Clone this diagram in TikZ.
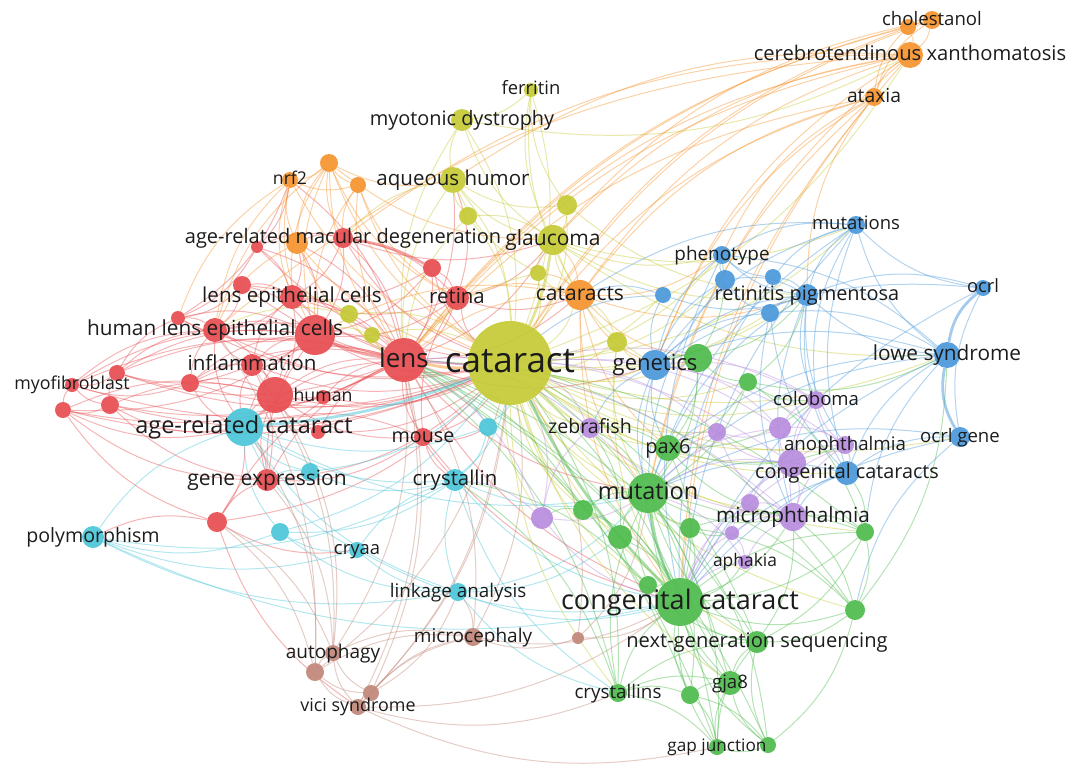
\documentclass[tikz,border=0pt]{standalone}
\usepackage{fontspec}
\setmainfont{Open Sans}
\usepackage{tikz}
\definecolor{cRed}{RGB}{231,76,80}
\definecolor{cOrange}{RGB}{245,148,46}
\definecolor{cYellow}{RGB}{196,202,52}
\definecolor{cBlue}{RGB}{74,152,218}
\definecolor{cGreen}{RGB}{78,187,76}
\definecolor{cPurple}{RGB}{183,140,222}
\definecolor{cCyan}{RGB}{74,198,216}
\definecolor{cBrown}{RGB}{192,135,120}
\definecolor{txt}{RGB}{28,28,28}
\pgfdeclarelayer{links}
\pgfsetlayers{links,main}

\begin{document}
\begin{tikzpicture}[x=1pt,y=-1pt,
  kw/.style={circle,fill=#1,inner sep=0pt,fill opacity=0.92},
  lbl/.style={font=\fontsize{#1}{#1}\selectfont,text=txt,inner sep=0pt,anchor=base,yshift=-0.27*#1*1pt},
  lnk/.style={draw=#1,line width=1pt,draw opacity=0.42},
  lnkw/.style={draw=#1,line width=2.8pt,draw opacity=0.5}]
\useasboundingbox (0,0) rectangle (1084,763);
\foreach \n/\x/\y/\s in {ra/315/335/40,rb/275/395/36,lens/404/360/44,hlec/215/330/24,lec/292/297/24,infl/252/365/22,human/323/397/14,geneexp/267/480/22,myofib/72/385/14,retina/457/298/24,mouse/423/437/18,amd/343/238/20,rc/432/268/18,rd/257/247/12,re/242/285/18,rf/178/318/14,rg/117/373/16,rh/63/410/16,ri/110/405/18,rj/190/383/18,rk/318/432/14,rl/217/522/20}
  \node[kw=cRed,minimum size=\s] (\n) at (\x,\y) {};
\foreach \n/\x/\y/\s in {arc/244/427/38,poly/93/537/22,crystallin/455/480/22,cryaa/357/550/16,linkage/458/592/18,ca/310/472/18,cb/280/532/18,cyc/488/427/18}
  \node[kw=cCyan,minimum size=\s] (\n) at (\x,\y) {};
\foreach \n/\x/\y/\s in {microceph/473/637/18,autoph/333/653/16,vici/358/707/16,bra/315/672/18,brb/371/693/16,brc/578/638/12}
  \node[kw=cBrown,minimum size=\s] (\n) at (\x,\y) {};
\foreach \n/\x/\y/\s in {cataract/510/363/84,glaucoma/553/240/30,aqueous/453/180/26,myotonic/462/120/22,ferritin/531/90/14,ya/567/205/20,yb/468/216/18,yc/538/273/16,yd/349/314/18,ye/372/335/16,yf/617/342/20}
  \node[kw=cYellow,minimum size=\s] (\n) at (\x,\y) {};
\foreach \n/\x/\y/\s in {cataracts/580/295/30,ctx/910/55/26,cholest/932/20/18,oa/908/27/16,ataxia/874/97/18,nrf2/290/180/16,ob/329/163/18,oc/358/185/16,od/297/243/22}
  \node[kw=cOrange,minimum size=\s] (\n) at (\x,\y) {};
\foreach \n/\x/\y/\s in {mutations/856/225/18,phenotype/722/255/18,rp/807/295/22,genetics/655/365/30,ocrl/983/288/16,lowe/947/355/26,ocrlgene/960/437/20,ccs/847/473/24,bla/725/280/20,blb/773/277/16,blc/770/313/18,bld/663/295/16}
  \node[kw=cBlue,minimum size=\s] (\n) at (\x,\y) {};
\foreach \n/\x/\y/\s in {mutation/648/493/40,pax6/668/448/26,congcat/680/602/48,ngs/757/642/22,gja8/730/683/24,crystallins/618/693/18,gapj/717/747/16,ga/768/745/16,gb/690/695/18,gc/855/610/20,gd/865/532/18,ge/690/528/20,gf/620/537/24,gg/583/510/20,gh/648/585/18,gi/698/358/28,gj/748/382/18}
  \node[kw=cGreen,minimum size=\s] (\n) at (\x,\y) {};
\foreach \n/\x/\y/\s in {zebra/590/428/20,colob/816/400/18,anoph/845/445/18,microph/793/517/28,aphakia/745/562/14,pa/717/432/18,pb/780/428/22,pc/792/463/28,pd/750/503/18,pe/732/533/14,pf/542/518/22}
  \node[kw=cPurple,minimum size=\s] (\n) at (\x,\y) {};
\foreach \n/\t/\s in {cataract/cataract/35,congcat/congenital cataract/27,lens/lens/26,arc/age-related cataract/23.5,mutation/mutation/23.5,genetics/genetics/22,cataracts/cataracts/21,glaucoma/glaucoma/21,lowe/lowe syndrome/20.8,ctx/cerebrotendinous xanthomatosis/20.2,hlec/human lens epithelial cells/20.8,lec/lens epithelial cells/20.6,infl/inflammation/20.6,geneexp/gene expression/21,aqueous/aqueous humor/20.5,retina/retina/20.4,crystallin/crystallin/20.4,microph/microphthalmia/20.8,ngs/next-generation sequencing/20.1,pax6/pax6/20,amd/age-related macular degeneration/20,myotonic/myotonic dystrophy/19.9,rp/retinitis pigmentosa/19.9,ccs/congenital cataracts/19.8,poly/polymorphism/19.6,zebra/zebrafish/19.6,mouse/mouse/19.7,ataxia/ataxia/19.3,colob/coloboma/18.5,anoph/anophthalmia/18.7,ocrl/ocrl/18.3,ocrlgene/ocrl gene/18.6,mutations/mutations/18.5,phenotype/phenotype/18.9,linkage/linkage analysis/18.8,microceph/microcephaly/19,autoph/autophagy/19,crystallins/crystallins/18.8,ferritin/ferritin/18.4,cholest/cholestanol/18.6,cryaa/cryaa/18.4,gja8/gja8/18.6,vici/vici syndrome/17.9,gapj/gap junction/17.2,aphakia/aphakia/17.4,nrf2/nrf2/17.6,human/human/17.7,myofib/myofibroblast/17.8}
  \node[lbl=\s] (\n-t) at (\n) {\t};
\begin{pgfonlayer}{links}
\foreach \a/\b in {lens/hlec,lens/lec,lens/infl,lens/ra,lens/rb,lens/retina,lens/mouse,lens/amd,lens/arc,lens/geneexp,lens/rc,lens/re,lens/rd,lens/myofib,lens/rj,lens/human,lens/rk,lens/crystallin,lens/glaucoma,lens/cataracts,lens/od,lens/nrf2,lens/aqueous,lens/rl,lens/rg,lens/congcat,lens/mutation,lens/genetics,ra/hlec,ra/lec,ra/infl,ra/rb,ra/arc,ra/retina,ra/cataract,ra/amd,ra/rf,ra/rg,ra/myofib,ra/od,ra/re,ra/rj,ra/geneexp,ra/rc,rb/arc,rb/infl,rb/hlec,rb/rj,rb/ri,rb/rh,rb/geneexp,rb/cataract,rb/mouse,rb/rk,rb/human,rb/lec,hlec/lec,hlec/rf,hlec/rg,hlec/re,hlec/infl,hlec/cataract,hlec/myofib,hlec/rj,hlec/arc,lec/retina,lec/amd,lec/cataract,lec/re,lec/rd,lec/od,lec/infl,lec/rc,myofib/rh,myofib/ri,myofib/rg,myofib/rj,rh/ri,rg/ri,rh/arc,ri/arc,rg/infl,rh/cataract,ri/cataract,rh/geneexp,rg/lens,rf/rg,rf/re,rf/rd,geneexp/arc,geneexp/rl,geneexp/cataract,geneexp/mouse,geneexp/infl,rl/arc,rl/cryaa,rl/poly,rl/cataract,retina/cataract,retina/amd,retina/rc,retina/glaucoma,retina/aqueous,retina/mouse,retina/cataracts,amd/od,amd/cataract,amd/glaucoma,amd/rd,mouse/cataract,mouse/crystallin,mouse/arc,mouse/cyc,infl/cataract,infl/arc,rk/cataract,human/cataract,human/arc,rc/cataract,re/cataract,rd/nrf2,rf/nrf2,rj/arc,rj/cataract,mouse/congcat,infl/rj,rh/lens,ri/lens,rg/cataract,myofib/cataract,rf/cataract,rd/cataract,rh/rl,ri/geneexp,rl/vici,rf/ra,rh/ra}
  \draw[lnk=cRed] (\a) to[bend right=18] (\b);
\foreach \a/\b in {arc/poly,arc/ca,arc/cb,arc/cryaa,arc/crystallin,arc/cyc,arc/linkage,poly/cb,poly/cryaa,poly/linkage,poly/crystallin,crystallin/cataract,crystallin/cryaa,crystallin/linkage,crystallin/congcat,crystallin/mutation,crystallin/cyc,cryaa/linkage,cryaa/congcat,linkage/congcat,linkage/mutation,linkage/crystallins,cyc/cataract,cyc/lens,ca/geneexp,ca/cataract,ca/crystallin,cb/crystallin,cb/cryaa,cb/cataract,poly/congcat,linkage/gf,crystallin/crystallins,arc/mutation,cb/linkage}
  \draw[lnk=cCyan] (\a) to[bend right=18] (\b);
\foreach \a/\b in {autoph/vici,autoph/bra,autoph/brb,bra/vici,brb/vici,bra/brb,microceph/vici,microceph/autoph,microceph/bra,microceph/brb,vici/congcat,autoph/rl,autoph/lens,vici/lens,microceph/cataract,microceph/brc,brc/congcat,brc/mutation,autoph/rb,bra/arc,microceph/lens,autoph/geneexp,bra/hlec,vici/crystallins,vici/gapj,bra/rl,brb/linkage,microceph/congcat,microceph/linkage,vici/cataract,brc/cataract,autoph/infl,brb/cataract,bra/cataract,brb/lens}
  \draw[lnk=cBrown] (\a) to[bend right=18] (\b);
\foreach \a/\b in {cataract/aqueous,cataract/ya,cataract/yb,cataract/yc,cataract/yd,cataract/ye,cataract/yf,cataract/cataracts,cataract/genetics,cataract/mutation,cataract/pax6,cataract/zebra,cataract/gi,cataract/ctx,cataract/phenotype,cataract/rp,cataract/lowe,cataract/myotonic,cataract/ferritin,cataract/gf,cataract/pf,cataract/ngs,cataract/ccs,cataract/microph,cataract/gg,cataract/gh,cataract/gja8,cataract/crystallins,cataract/mutations,cataract/bla,cataract/bld,cataract/pa,cataract/anoph,cataract/gj,cataract/ge,myotonic/aqueous,myotonic/ferritin,myotonic/glaucoma,ferritin/glaucoma,ferritin/ya,aqueous/glaucoma,aqueous/yb,aqueous/ya,aqueous/yc,glaucoma/ya,glaucoma/yc,glaucoma/cataracts,glaucoma/genetics,glaucoma/rp,glaucoma/phenotype,glaucoma/yb,yf/genetics,yf/mutation,yf/congcat,yc/lens,yd/lens,ye/lens,ya/rp,glaucoma/mutations,yd/hlec,ye/ra,yd/lec,yf/cataracts,aqueous/lens,myotonic/lens,ferritin/cataracts,myotonic/ctx,glaucoma/lowe,aqueous/amd,yb/lens,yc/cataracts,cataract/colob,cataract/pc,cataract/gd,cataract/gc,cataract/ocrlgene,cataract/blc}
  \draw[lnk=cYellow] (\a) to[bend right=18] (\b);
\foreach \a/\b in {ctx/cholest,ctx/oa,ctx/ataxia,cholest/ataxia,oa/ataxia,cholest/oa,ctx/cataracts,ataxia/cataract,ctx/lens,ataxia/lens,cholest/cataract,ctx/glaucoma,ataxia/congcat,ctx/mutation,ataxia/genetics,ctx/amd,cholest/lens,ataxia/cataracts,ctx/retina,oa/cataract,ctx/aqueous,cholest/glaucoma,ataxia/mutation,ctx/congcat,ataxia/phenotype,ctx/hlec,nrf2/ob,nrf2/oc,nrf2/od,ob/oc,ob/od,ob/lens,oc/lens,ob/amd,oc/amd,od/lens,ob/cataract,oc/cataract,nrf2/lec,ob/lec,ob/hlec,od/hlec,ob/retina,ob/aqueous,nrf2/hlec,ob/ra,nrf2/ra,oc/ra,od/cataract,nrf2/cataract,ob/glaucoma,oc/retina,nrf2/rf,cataracts/lens,cataracts/glaucoma,cataracts/genetics,cataracts/mutation,cataracts/congcat,cataracts/phenotype,cataracts/rp,cataracts/retina,cataracts/yc,cataracts/gi,cataracts/pax6,cataracts/ra,oa/lens,ataxia/rp,ctx/genetics}
  \draw[lnk=cOrange] (\a) to[bend right=18] (\b);
\foreach \a/\b in {mutations/rp,mutations/phenotype,mutations/lowe,mutations/ocrl,mutations/ccs,mutations/blb,mutations/genetics,mutations/colob,mutations/congcat,phenotype/rp,phenotype/bla,phenotype/blb,phenotype/genetics,rp/bla,rp/blb,rp/blc,rp/genetics,rp/lowe,rp/ccs,rp/colob,rp/anoph,rp/microph,bla/blc,bla/genetics,blc/genetics,blc/ccs,bld/cataract,bld/genetics,bld/rp,ocrl/ocrlgene,lowe/genetics,lowe/ccs,lowe/congcat,lowe/mutation,ocrlgene/ccs,ocrlgene/congcat,ocrlgene/gc,ccs/microph,ccs/anoph,ccs/mutation,ccs/congcat,genetics/mutation,genetics/congcat,genetics/pax6,genetics/gi,lowe/phenotype,ocrl/rp,lowe/blc,blc/microph,bla/mutation,blb/congcat,phenotype/congcat,rp/mutation,ocrlgene/mutation,lowe/gd,ocrl/congcat,genetics/zebra,bld/cataracts,mutations/cataracts,lowe/pax6,ocrl/genetics,mutations/mutation}
  \draw[lnk=cBlue] (\a) to[bend right=18] (\b);
\foreach \a/\b in {mutation/pax6,mutation/gf,mutation/gg,mutation/ge,mutation/gh,mutation/gi,mutation/gj,mutation/ngs,mutation/gja8,mutation/crystallins,mutation/microph,mutation/zebra,congcat/ngs,congcat/gja8,congcat/crystallins,congcat/gapj,congcat/ga,congcat/gb,congcat/gc,congcat/gd,congcat/gh,congcat/ge,congcat/gf,congcat/gg,congcat/pax6,congcat/microph,congcat/aphakia,ngs/gja8,ngs/gc,ngs/gd,ngs/gapj,ngs/ga,ngs/crystallins,gja8/gapj,gja8/ga,gja8/gb,gja8/crystallins,gapj/gb,gapj/ga,gapj/crystallins,ga/gb,gb/crystallins,gc/gd,gc/ge,gd/microph,gd/ge,pax6/gi,pax6/gj,pax6/zebra,pax6/microph,pax6/anoph,pax6/colob,gi/gj,gi/genetics,gj/colob,gj/lowe,gf/gg,gg/pf,gh/crystallin,crystallins/crystallin,gapj/cataract,ngs/cataract,gja8/cataract,gc/cataract,gd/lens,crystallins/lens,ga/lens,gi/rp,gj/rp,gc/microph,gd/ccs,ge/pe,gf/gh,gh/ngs,gb/mutation,gapj/mutation,ga/mutation,gc/mutation,ngs/lens,gja8/lens,crystallins/cataract,gd/congcat,gi/phenotype,gf/zebra,gg/lens,gc/lowe,ga/gc,gb/lens,gapj/lens,gd/gj,ngs/microph}
  \draw[lnk=cGreen] (\a) to[bend right=18] (\b);
\foreach \a/\b in {zebra/cataract,zebra/microph,zebra/pf,zebra/lens,colob/pb,colob/anoph,colob/microph,colob/pc,anoph/microph,anoph/pc,anoph/pb,microph/pc,microph/pd,microph/pe,microph/aphakia,pa/pb,pa/pc,pa/microph,pa/cataract,pb/pc,pc/pd,pd/pe,aphakia/pe,pf/mutation,pf/cataract,pf/congcat,pc/congcat,pb/mutation,colob/cataract,anoph/cataract,microph/lens,pa/pax6,pa/mutation,pd/congcat,pe/congcat,aphakia/congcat,aphakia/mutation,pb/genetics,colob/genetics,anoph/congcat,pc/mutation,pf/lens,pf/crystallin,pc/lens,pb/cataract}
  \draw[lnk=cPurple] (\a) to[bend right=18] (\b);
\draw[lnkw=cOrange] (lens) to[bend right=8] (cataract);
\draw[lnkw=cRed] (ra) to[bend right=8] (lens);
\draw[lnkw=cRed] (amd) to[bend left=10] (rc);
\draw[lnkw=cYellow] (cataract) to[bend right=8] (glaucoma);
\draw[lnkw=cCyan] (arc) to[bend right=8] (cataract);
\draw[lnkw=cGreen] (cataract) to[bend right=8] (congcat);
\draw[lnkw=cGreen] (mutation) to[bend right=8] (congcat);
\draw[lnkw=cBlue] (ocrl) to[bend right=20] (lowe);
\draw[lnkw=cBlue] (lowe) to[bend right=20] (ocrlgene);
\end{pgfonlayer}
\end{tikzpicture}
\end{document}
